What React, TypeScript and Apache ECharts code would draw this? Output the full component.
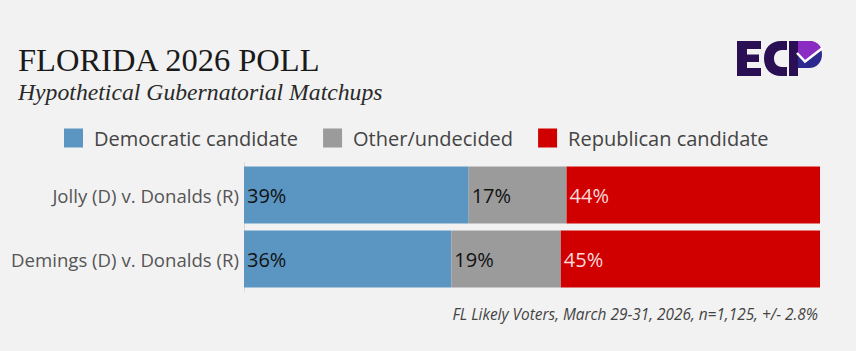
import React, { useEffect, useRef } from "react";
import * as echarts from "echarts";

const categories = ["Jolly (D) v. Donalds (R)", "Demings (D) v. Donalds (R)"];
const seriesNames = ["Democratic candidate", "Other/undecided", "Republican candidate"];
const democratic = [39, 36];
const other = [17, 19];
const republican = [44, 45];

const titleText = "FLORIDA 2026 POLL";
const subtitleText = "Hypothetical Gubernatorial Matchups";
const footnoteText = "FL Likely Voters, March 29-31, 2026, n=1,125, +/- 2.8%";

const C_PATH =
  "M23 0 L17 0 C7 0 0 7 0 17.5 C0 28 7 35 17 35 L23 35 L23 26 L18 26 C13 26 10 22 10 17.5 C10 13 13 9 18 9 L23 9 Z";
const BOWL_PATH = "M0 0 L11 0 C19 0 24 6 24 13.5 C24 21 19 27 11 27 L0 27 Z";
const PURPLE_PATH = "M0 0 L11 0 C17 0 21.5 3 23.3 7.5 L7 20 L0 13 Z";

echarts.graphic.registerShape("ecpC", echarts.graphic.extendPath(C_PATH, {}));
echarts.graphic.registerShape("ecpBowl", echarts.graphic.extendPath(BOWL_PATH, {}));
echarts.graphic.registerShape("ecpPurple", echarts.graphic.extendPath(PURPLE_PATH, {}));

const FONT = '"Open Sans", "Noto Sans", sans-serif';
const SERIF = '"Liberation Serif", "Times New Roman", serif';

export default function App() {
  const ref = useRef<HTMLDivElement>(null);
  useEffect(() => {
    if (!ref.current) return;
    const chart = echarts.init(ref.current, undefined, { renderer: "svg" });
    const dark = "#2b0f55";
    const labelBase = {
      show: true,
      position: "insideLeft",
      distance: 3,
      fontSize: 20,
      fontFamily: FONT,
      formatter: "{c}%",
    };
    chart.setOption({
      animation: false,
      backgroundColor: "#f2f2f2",
      title: [
        {
          text: titleText,
          left: 13,
          top: 38,
          textStyle: {
            fontFamily: SERIF,
            fontSize: 32.5,
            fontWeight: "normal",
            color: "#1a1a1a",
          },
        },
        {
          text: subtitleText,
          left: 13,
          top: 75,
          textStyle: {
            fontFamily: SERIF,
            fontSize: 23.7,
            fontStyle: "italic",
            fontWeight: "normal",
            color: "#2a2a2a",
          },
        },
      ],
      legend: {
        left: 64,
        top: 128,
        padding: 0,
        itemWidth: 19,
        itemHeight: 19,
        itemGap: 25,
        icon: "rect",
        data: seriesNames,
        textStyle: {
          fontFamily: FONT,
          fontSize: 20,
          color: "#444",
          padding: [0, 0, 0, 6],
        },
      },
      grid: { left: 244, right: 36, top: 163, bottom: 60 },
      xAxis: { type: "value", min: 0, max: 100, show: false },
      yAxis: {
        type: "category",
        data: categories,
        inverse: true,
        axisLine: { show: true, lineStyle: { color: "#d8d8d8", width: 1 } },
        axisTick: { show: false },
        axisLabel: { fontFamily: FONT, fontSize: 18.6, color: "#555", margin: 5 },
      },
      series: [
        {
          name: seriesNames[0],
          type: "bar",
          stack: "total",
          barWidth: 57,
          data: democratic,
          itemStyle: { color: "#5b96c3" },
          label: { ...labelBase, color: "#111" },
        },
        {
          name: seriesNames[1],
          type: "bar",
          stack: "total",
          barWidth: 57,
          data: other,
          itemStyle: { color: "#9b9b9b" },
          label: { ...labelBase, color: "#111" },
        },
        {
          name: seriesNames[2],
          type: "bar",
          stack: "total",
          barWidth: 57,
          data: republican,
          itemStyle: { color: "#d00000" },
          label: { ...labelBase, color: "#fbdada" },
        },
      ],
      graphic: [
        {
          type: "text",
          x: 818,
          y: 314,
          style: {
            text: footnoteText,
            fontFamily: FONT,
            fontSize: 15.4,
            fontStyle: "italic",
            fill: "#444",
            align: "right",
            verticalAlign: "middle",
          },
        },
        {
          type: "group",
          x: 737,
          y: 41,
          children: [
            {
              type: "polygon",
              shape: {
                points: [
                  [0, 0], [24, 0], [24, 8], [10, 8], [10, 13.5], [22, 13.5],
                  [22, 21], [10, 21], [10, 27], [24, 27], [24, 35], [0, 35],
                ],
              },
              style: { fill: dark },
            },
            { type: "ecpC", x: 27, y: 0, style: { fill: dark } },
            { type: "rect", shape: { x: 52, y: 0, width: 9, height: 35 }, style: { fill: dark } },
            { type: "ecpBowl", x: 61, y: 0, style: { fill: "#2d2a8f" } },
            { type: "ecpPurple", x: 61, y: 0, style: { fill: "#8a2bc4" } },
            {
              type: "polyline",
              shape: { points: [[60, 12], [68, 20.5], [85.5, 7]] },
              style: { stroke: "#ffffff", lineWidth: 2.5, fill: null },
            },
          ],
        },
      ],
    });
    return () => chart.dispose();
  }, []);
  return (
    <div
      ref={ref}
      style={{ position: "fixed", left: 0, top: 0, width: 856, height: 351 }}
    />
  );
}
